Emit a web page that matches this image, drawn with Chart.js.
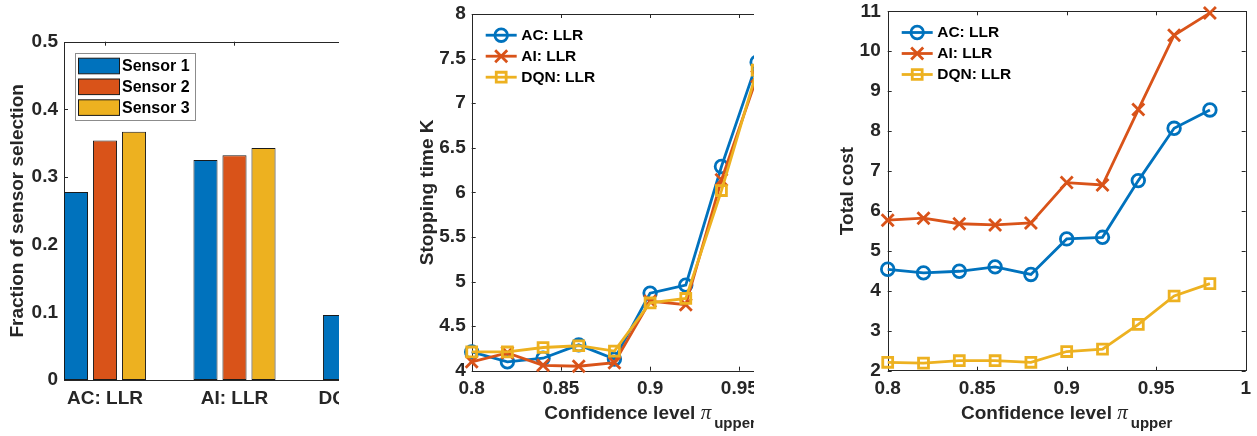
<!DOCTYPE html>
<html>
<head>
<meta charset="utf-8">
<script src="https://cdn.jsdelivr.net/npm/chart.js@4.4.1/dist/chart.umd.min.js"></script>
<style>
  html, body { margin: 0; padding: 0; background: #fff; }
  body { width: 1257px; height: 436px; position: relative; overflow: hidden; }
  .panel { position: absolute; top: 0; height: 436px; overflow: hidden; }
  .panel canvas { position: absolute; left: 0; top: 0; }
</style>
</head>
<body>
<div class="panel" style="left:0;width:339px"><canvas id="bars" width="420" height="436"></canvas></div>
<div class="panel" style="left:400px;width:354px"><canvas id="stop" width="440" height="436"></canvas></div>
<div class="panel" style="left:830px;width:427px"><canvas id="cost" width="427" height="436"></canvas></div>
<script>
// left panel: fraction of sensor selection per method (DQN bars beyond the crop are not readable)
const methods = ['AC: LLR', 'AI: LLR', 'DQN: LLR'];
const sensors = ['Sensor 1', 'Sensor 2', 'Sensor 3'];
const sensor1 = [0.278, 0.325, 0.096];
const sensor2 = [0.354, 0.332, null];
const sensor3 = [0.367, 0.343, null];

// middle + right panels share the confidence levels
const confidence = [0.80, 0.82, 0.84, 0.86, 0.88, 0.90, 0.92, 0.94, 0.96, 0.98];
const lineLabels = ['AC: LLR', 'AI: LLR', 'DQN: LLR'];

const stopAC  = [4.21, 4.10, 4.14, 4.29, 4.13, 4.87, 4.96, 6.29, 7.46, null];
const stopAI  = [4.10, 4.20, 4.06, 4.05, 4.09, 4.78, 4.74, 6.14, 7.30, null];
const stopDQN = [4.21, 4.21, 4.26, 4.28, 4.22, 4.76, 4.81, 6.02, 7.37, null];

const costAC  = [4.54, 4.45, 4.49, 4.60, 4.41, 5.30, 5.34, 6.76, 8.07, 8.53];
const costAI  = [5.77, 5.82, 5.68, 5.65, 5.70, 6.71, 6.65, 8.54, 10.40, 10.96];
const costDQN = [2.21, 2.19, 2.25, 2.25, 2.21, 2.48, 2.54, 3.16, 3.87, 4.18];

const COLORS = ['#0072BD', '#D95319', '#EDB120'];
const MARKERS = ['circle', 'crossRot', 'rect'];
const MARKER_R = [6.3, 8.5, 7];
const INK = '#262626';
const FONT = "'Liberation Sans', Arial, Helvetica, sans-serif";

Chart.defaults.font.family = FONT;
Chart.defaults.color = INK;

const fmt = v => String(+Number(v).toFixed(3));

function drawMarker(ctx, style, x, y, r) {
  ctx.beginPath();
  if (style === 'circle') {
    ctx.arc(x, y, r, 0, Math.PI * 2);
  } else if (style === 'rect') {
    const s = r * Math.SQRT1_2;
    ctx.rect(x - s, y - s, 2 * s, 2 * s);
  } else {
    const s = r * Math.SQRT1_2;
    ctx.moveTo(x - s, y - s); ctx.lineTo(x + s, y + s);
    ctx.moveTo(x + s, y - s); ctx.lineTo(x - s, y + s);
  }
  ctx.stroke();
}

// matlab style box with inward ticks on all four sides
const axesBox = {
  id: 'axesBox',
  beforeDatasetsDraw(chart) {
    const {ctx, chartArea: a, scales: {x, y}} = chart;
    const len = 4;
    ctx.save();
    ctx.strokeStyle = INK;
    ctx.lineWidth = 1;
    ctx.beginPath();
    x.ticks.forEach(t => {
      const px = Math.round(x.getPixelForValue(t.value)) + 0.5;
      ctx.moveTo(px, a.bottom); ctx.lineTo(px, a.bottom - len);
      ctx.moveTo(px, a.top); ctx.lineTo(px, a.top + len);
    });
    y.ticks.forEach(t => {
      const py = Math.round(y.getPixelForValue(t.value)) + 0.5;
      ctx.moveTo(a.left, py); ctx.lineTo(a.left + len, py);
      ctx.moveTo(a.right, py); ctx.lineTo(a.right - len, py);
    });
    ctx.stroke();
    ctx.strokeRect(Math.round(a.left) + 0.5, Math.round(a.top) + 0.5,
                   Math.round(a.right - a.left), Math.round(a.bottom - a.top));
    ctx.restore();
  }
};

const barLegend = {
  id: 'barLegend',
  afterDraw(chart) {
    const {ctx, chartArea: a} = chart;
    const bx = Math.round(a.left + 11), by = Math.round(a.top + 11), bw = 120, bh = 67;
    ctx.save();
    ctx.fillStyle = '#fff';
    ctx.fillRect(bx, by, bw, bh);
    ctx.strokeStyle = '#8c8c8c';
    ctx.lineWidth = 1;
    ctx.strokeRect(bx + 0.5, by + 0.5, bw, bh);
    ctx.font = 'bold 16px ' + FONT;
    ctx.textBaseline = 'middle';
    chart.data.datasets.forEach((ds, i) => {
      const cy = by + 13 + i * 20.8;
      ctx.fillStyle = ds.backgroundColor;
      ctx.fillRect(bx + 3.5, cy - 7.8, 41, 15.6);
      ctx.strokeStyle = '#1a1a1a';
      ctx.strokeRect(bx + 3.5, cy - 7.8, 41, 15.6);
      ctx.fillStyle = '#000';
      ctx.fillText(ds.label, bx + 47, cy + 0.5);
    });
    ctx.restore();
  }
};

const lineLegend = {
  id: 'lineLegend',
  afterDraw(chart) {
    const {ctx, chartArea: a} = chart;
    ctx.save();
    ctx.font = 'bold 15.5px ' + FONT;
    ctx.textBaseline = 'middle';
    chart.data.datasets.forEach((ds, i) => {
      const yy = a.top + 21.2 + i * 21;
      const x0 = a.left + 14, x1 = a.left + 45;
      ctx.strokeStyle = ds.borderColor;
      ctx.lineWidth = ds.borderWidth;
      ctx.beginPath(); ctx.moveTo(x0, yy); ctx.lineTo(x1, yy); ctx.stroke();
      ctx.lineWidth = ds.pointBorderWidth;
      drawMarker(ctx, ds.pointStyle, (x0 + x1) / 2, yy, ds.pointRadius);
      ctx.fillStyle = '#000';
      ctx.fillText(ds.label, a.left + 49.5, yy + 0.5);
    });
    ctx.restore();
  }
};

// x title with the pi_upper subscript
const piTitle = {
  id: 'piTitle',
  afterDraw(chart) {
    const {ctx, chartArea: a} = chart;
    const main = 'Confidence level ';
    const fMain = 'bold 19px ' + FONT;
    const fPi = "italic 21px 'Liberation Serif', 'DejaVu Serif', serif";
    const fSub = 'bold 15px ' + FONT;
    const base = 418.5;
    ctx.save();
    ctx.fillStyle = INK;
    ctx.textBaseline = 'alphabetic';
    ctx.font = fMain; const w1 = ctx.measureText(main).width;
    ctx.font = fPi; const w2 = ctx.measureText('π').width;
    ctx.font = fSub; const w3 = ctx.measureText('upper').width;
    const gap = 3;
    let x = (a.left + a.right) / 2 - (w1 + w2 + gap + w3) / 2;
    ctx.font = fMain; ctx.fillText(main, x, base); x += w1;
    ctx.font = fPi; ctx.fillText('π', x, base); x += w2 + gap;
    ctx.font = fSub; ctx.fillText('upper', x, base + 9);
    ctx.restore();
  }
};

const tickFont = {size: 19, weight: 'bold'};
const titleFont = {size: 19, weight: 'bold', lineHeight: 1.2};

new Chart(document.getElementById('bars'), {
  type: 'bar',
  data: {
    datasets: [sensor1, sensor2, sensor3].map((vals, i) => ({
      label: sensors[i],
      data: vals.map((v, j) => ({x: j + 1, y: v})),
      backgroundColor: COLORS[i],
      borderColor: '#1a1a1a',
      borderWidth: 1,
      borderSkipped: false,
      barPercentage: 0.83,
      categoryPercentage: 0.672
    }))
  },
  options: {
    responsive: false,
    animation: false,
    layout: {padding: {top: 41.7, right: 15, left: 0, bottom: 0}},
    plugins: {legend: {display: false}, tooltip: {enabled: false}},
    scales: {
      x: {
        type: 'linear', min: 0.6834, max: 3.3166, offset: false,
        grid: {display: false, drawTicks: false, offset: false}, border: {display: false},
        ticks: {stepSize: 1, includeBounds: false, padding: 7.6, font: tickFont, color: INK,
                maxRotation: 0, autoSkip: false,
                callback: v => methods[Math.round(v) - 1] || ''},
        afterFit: s => { s.height = 56; s.paddingLeft = 0; s.paddingRight = 0; }
      },
      y: {
        min: 0, max: 0.5,
        grid: {display: false, drawTicks: false}, border: {display: false},
        ticks: {stepSize: 0.1, padding: 6, font: tickFont, color: INK, callback: fmt},
        title: {display: true, text: 'Fraction of sensor selection', font: titleFont, color: INK,
                padding: {top: 6.6, bottom: 0}},
        afterFit: s => { s.width = 64; s.paddingTop = 0; s.paddingBottom = 0; }
      }
    }
  },
  plugins: [axesBox, barLegend]
});

function lineChart(id, series, yMin, yMax, yStep, yTitle, box) {
  return new Chart(document.getElementById(id), {
    type: 'line',
    data: {
      datasets: series.map((vals, i) => ({
        label: lineLabels[i],
        data: vals.map((v, j) => ({x: confidence[j], y: v})),
        borderColor: COLORS[i],
        backgroundColor: COLORS[i],
        borderWidth: 2.8,
        pointStyle: MARKERS[i],
        pointRadius: MARKER_R[i],
        pointBorderWidth: 2.8,
        pointBorderColor: COLORS[i],
        pointBackgroundColor: 'rgba(0,0,0,0)',
        tension: 0,
        fill: false,
        clip: false,
        order: 2 - i
      }))
    },
    options: {
      responsive: false,
      animation: false,
      layout: {padding: {top: box.top, right: box.right, left: 0, bottom: 0}},
      plugins: {legend: {display: false}, tooltip: {enabled: false}},
      scales: {
        x: {
          type: 'linear', min: 0.8, max: 1,
          grid: {display: false, drawTicks: false}, border: {display: false},
          ticks: {stepSize: 0.05, padding: 6.2, font: tickFont, color: INK, maxRotation: 0,
                  autoSkip: false, callback: fmt},
          afterFit: s => { s.height = 436 - box.bottom; s.paddingLeft = 0; s.paddingRight = 0; }
        },
        y: {
          min: yMin, max: yMax,
          grid: {display: false, drawTicks: false}, border: {display: false},
          ticks: {stepSize: yStep, padding: box.tickPad, font: tickFont, color: INK, callback: fmt},
          title: {display: true, text: yTitle, font: titleFont, color: INK,
                  padding: {top: box.titlePad, bottom: 0}},
          afterFit: s => { s.width = box.left; s.paddingTop = 0; s.paddingBottom = 0; }
        }
      }
    },
    plugins: [axesBox, lineLegend, piTitle]
  });
}

lineChart('stop', [stopAC, stopAI, stopDQN], 4, 8, 0.5, 'Stopping time K',
          {top: 14, right: 11.5, bottom: 370.7, left: 71.7, tickPad: 6, titlePad: 16.6});
lineChart('cost', [costAC, costAI, costDQN], 2, 11, 1, 'Total cost',
          {top: 9.3, right: 7.7, bottom: 370.7, left: 57.7, tickPad: 7, titlePad: 6.6});
</script>
</body>
</html>
